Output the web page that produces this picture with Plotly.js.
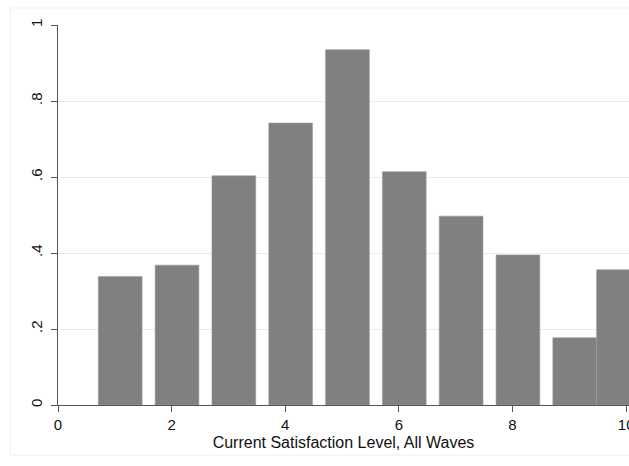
<!DOCTYPE html>
<html>
<head>
<meta charset="utf-8">
<script src="https://cdn.plot.ly/plotly-3.0.1.min.js"></script>
<style>html,body{margin:0;padding:0;background:#fff;}#chart{width:629px;height:466px;}</style>
</head>
<body>
<div id="chart"></div>
<script>
// Data
var satisfactionLevel = [1, 2, 3, 4, 5, 6, 7, 8, 9, 10];
var barHeight = [0.338, 0.368, 0.603, 0.742, 0.935, 0.614, 0.497, 0.395, 0.177, 0.356];
var yTickValues = [0, 0.2, 0.4, 0.6, 0.8, 1];
var yTickLabels = ["0", ".2", ".4", ".6", ".8", "1"];
var xTickValues = [0, 2, 4, 6, 8, 10];
var xTickLabels = ["0", "2", "4", "6", "8", "10"];
var xTitle = "Current Satisfaction Level, All Waves";

// Style (bar placement as drawn in the original)
var barOffset = satisfactionLevel.map(function (v) { return v === 10 ? -0.52 : -0.29; });
var barWidth = satisfactionLevel.map(function (v) { return v === 10 ? 1.0 : 0.77; });

var font = "Liberation Sans, Arial, Helvetica, sans-serif";
var txt = "#111111";

var trace = {
  type: "bar",
  x: satisfactionLevel,
  y: barHeight,
  offset: barOffset,
  width: barWidth,
  marker: { color: "#808080", line: { color: "#9a9a9a", width: 0.6 } },
  hoverinfo: "x+y"
};

var layout = {
  width: 629,
  height: 466,
  margin: { l: 57.5, r: 0, t: 25, b: 61, pad: 0 },
  paper_bgcolor: "#ffffff",
  plot_bgcolor: "#ffffff",
  showlegend: false,
  font: { family: font, size: 15, color: txt },
  xaxis: {
    range: [0, 10.05],
    tickvals: xTickValues,
    ticktext: xTickLabels,
    ticklabeloverflow: "allow",
    ticks: "outside",
    ticklen: 6,
    tickwidth: 1,
    tickcolor: "#555555",
    showline: true,
    linecolor: "#555555",
    linewidth: 1.2,
    showgrid: false,
    zeroline: false,
    tickfont: { family: font, size: 15, color: txt },
    title: { text: xTitle, font: { family: font, size: 16, color: txt }, standoff: 4 },
    fixedrange: true
  },
  yaxis: {
    range: [0, 1],
    tickvals: yTickValues,
    ticktext: yTickLabels,
    tickangle: -90,
    ticks: "outside",
    ticklen: 6,
    tickwidth: 1,
    tickcolor: "#555555",
    showline: true,
    linecolor: "#555555",
    linewidth: 1.2,
    showgrid: true,
    gridcolor: "#ececec",
    gridwidth: 1,
    zeroline: false,
    tickfont: { family: font, size: 15, color: txt },
    ticklabelstandoff: 3,
    fixedrange: true
  },
  shapes: [
    { type: "rect", xref: "paper", yref: "paper",
      x0: -47.5 / 571.5, x1: 1.2, y0: -50 / 380, y1: 1 + 17 / 380,
      line: { color: "#efefef", width: 1 }, fillcolor: "rgba(0,0,0,0)", layer: "below" }
  ]
};

Plotly.newPlot("chart", [trace], layout, { displayModeBar: false, staticPlot: true });
</script>
</body>
</html>
